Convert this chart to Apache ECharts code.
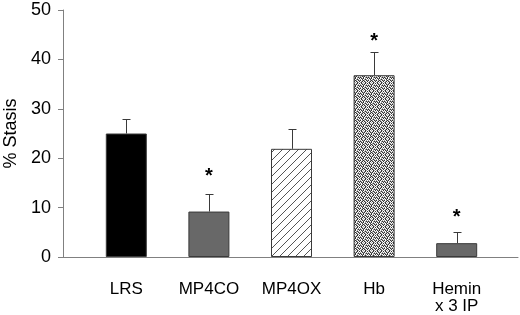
<!DOCTYPE html>
<html><head><meta charset="utf-8">
<script src="https://cdn.jsdelivr.net/npm/echarts@6/dist/echarts.min.js"></script>
<style>html,body{margin:0;padding:0;background:#fff}#c{width:520px;height:315px}</style>
</head><body><div id="c"></div>
<script>
const categories = ['LRS', 'MP4CO', 'MP4OX', 'Hb', 'Hemin\nx 3 IP'];
const means = [25.0, 9.2, 21.9, 36.8, 2.8];
const errUp = [3.0, 3.6, 4.0, 4.6, 2.3];
const starAt = [null, 17.1, null, 44.5, 8.9];
const yTicks = [0, 10, 20, 30, 40, 50];

function hatch() {
  const c = document.createElement('canvas'); c.width = 8; c.height = 8;
  const g = c.getContext('2d');
  g.fillStyle = '#fff'; g.fillRect(0, 0, 8, 8);
  g.strokeStyle = '#555'; g.lineWidth = 1;
  g.beginPath();
  g.moveTo(-1, 9); g.lineTo(9, -1);
  g.moveTo(-1, 1); g.lineTo(1, -1);
  g.moveTo(7, 9); g.lineTo(9, 7);
  g.stroke();
  return c;
}
function stipple() {
  const rows = [
    '20121021','01202102','12010210','02101202',
    '10212010','21020121','02120102','10201210'
  ];
  const cols = ['#ffffff', '#a0a0a0', '#333333'];
  const c = document.createElement('canvas'); c.width = 8; c.height = 8;
  const g = c.getContext('2d');
  for (let y = 0; y < 8; y++) for (let x = 0; x < 8; x++) {
    g.fillStyle = cols[+rows[y][x]]; g.fillRect(x, y, 1, 1);
  }
  return c;
}
const fills = ['#000000', '#686868', {image: hatch(), repeat: 'repeat'}, {image: stipple(), repeat: 'repeat'}, '#686868'];

const chart = echarts.init(document.getElementById('c'), null, {renderer: 'canvas'});
const font = 'Liberation Sans';
chart.setOption({
  animation: false,
  grid: [
    {left: 63, right: 2, top: 10, bottom: 58, containLabel: false, outerBoundsMode: 'none'},
    {left: 85, right: 22, top: 10, bottom: 58, containLabel: false, outerBoundsMode: 'none'}
  ],
  xAxis: [
    {gridIndex: 0, type: 'value', min: 0, max: 1, axisLine: {show: true, lineStyle: {color: '#808080', width: 1}},
     axisTick: {show: false}, axisLabel: {show: false}, splitLine: {show: false}},
    {gridIndex: 1, type: 'category', data: categories, axisLine: {show: false}, axisTick: {show: false},
     axisLabel: {color: '#000', fontFamily: font, fontSize: 17, margin: 24, lineHeight: 17, interval: 0}}
  ],
  yAxis: [
    {gridIndex: 0, type: 'value', min: yTicks[0], max: yTicks[yTicks.length - 1], interval: 10,
     axisLine: {show: true, lineStyle: {color: '#808080', width: 1}},
     axisTick: {show: true, inside: false, length: 5, lineStyle: {color: '#808080'}},
     axisLabel: {color: '#000', fontFamily: font, fontSize: 18, margin: 12},
     splitLine: {show: false},
     name: '% Stasis', nameLocation: 'middle', nameGap: 43, nameRotate: 90,
     nameTextStyle: {color: '#000', fontFamily: font, fontSize: 18}},
    {gridIndex: 1, type: 'value', min: 0, max: 50, show: false}
  ],
  series: [
    {type: 'bar', xAxisIndex: 1, yAxisIndex: 1, barWidth: 41,
     data: means.map((v, i) => ({value: v, itemStyle: {color: fills[i], borderColor: '#3a3a3a', borderWidth: 1}}))},
    {type: 'custom', xAxisIndex: 1, yAxisIndex: 1, z: 5,
     data: means.map((v, i) => [i, v, v + errUp[i]]),
     renderItem: function (params, api) {
       const lo = api.coord([api.value(0), api.value(1)]);
       const hi = api.coord([api.value(0), api.value(2)]);
       const x = Math.round(lo[0]) + 0.5;
       const yh = Math.round(hi[1]) + 0.5;
       return {type: 'group', children: [
         {type: 'line', shape: {x1: x, y1: lo[1], x2: x, y2: yh}, style: {stroke: '#3a3a3a', lineWidth: 1}},
         {type: 'line', shape: {x1: x - 4, y1: yh, x2: x + 4, y2: yh}, style: {stroke: '#3a3a3a', lineWidth: 1}}
       ]};
     }},
    {type: 'custom', xAxisIndex: 1, yAxisIndex: 1, z: 6,
     data: starAt.map((v, i) => v == null ? null : [i, v]).filter(d => d),
     renderItem: function (params, api) {
       const p = api.coord([api.value(0), api.value(1)]);
       return {type: 'text', x: p[0], y: p[1] + 4,
         style: {text: '*', fill: '#000', font: 'bold 20px ' + font, textAlign: 'center', textVerticalAlign: 'middle'}};
     }}
  ]
});
</script></body></html>
